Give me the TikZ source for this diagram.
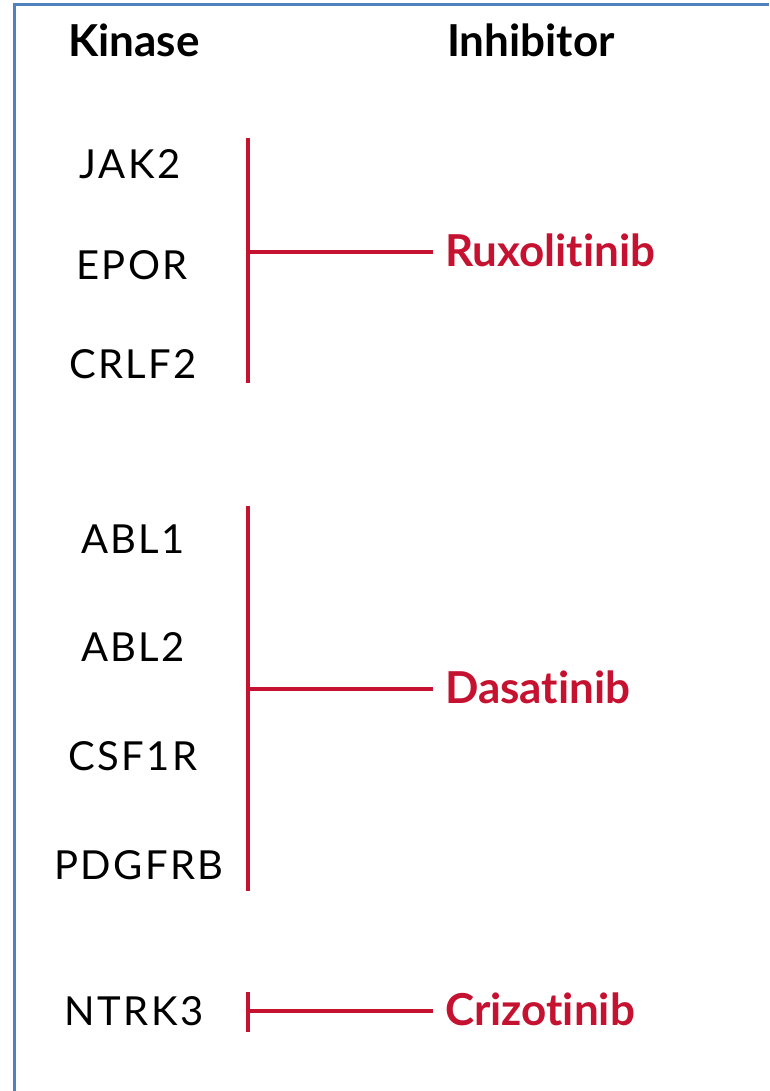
\documentclass[tikz,border=0pt]{standalone}
\usepackage{fontspec}
\setmainfont{Lato}[Ligatures=NoCommon]
\newfontfamily\kinfont[LetterSpace=6]{Lato}
\definecolor{drugred}{RGB}{196,18,48}
\definecolor{frameblue}{RGB}{79,129,189}
\tikzset{
  head/.style={anchor=base, inner sep=0pt, font=\bfseries\fontsize{44}{48}\selectfont},
  kin/.style={anchor=base, inner sep=0pt, font=\kinfont\fontsize{40}{44}\selectfont},
  drug/.style={anchor=base west, inner xsep=12pt, inner ysep=0pt, text=drugred,
    font=\bfseries\fontsize{44}{48}\selectfont},
  bar/.style={drugred, line width=4.5pt},
}
\begin{document}
\begin{tikzpicture}[x=1pt,y=-1pt] % kinases and their inhibitors
    \useasboundingbox (0,0) rectangle (769,1091);
    \draw[frameblue, line width=2.5pt] (14.5,1091) -- (14.5,4.5) -- (769,4.5);

    \node[head] (kinhead) at (134,57) {Kinase};
    \node[head] (inhhead) at (531,57) {Inhibitor};

    % kinases
    \node[kin] (jak) at (130,179) {JAK2};
    \node[kin] (epor) at (132,279) {EPOR};
    \node[kin] (crlf) at (133,378) {CRLF2};
    \node[kin] (ablone) at (133,553) {ABL1};
    \node[kin] (abltwo) at (133,661) {ABL2};
    \node[kin] (csf) at (133,770) {CSF1R};
    \node[kin] (pdgf) at (139,879) {PDGFRB};
    \node[kin] (ntrk) at (134,1025) {NTRK3};

    % inhibitors
    \node[drug] (rux) at (433,266) {Ruxolitinib};
    \node[drug] (dasa) at (433,703) {Dasatinib};
    \node[drug] (crizo) at (433,1025) {Crizotinib};

    \coordinate (top1) at (248,138);
    \coordinate (bot1) at (248,383);
    \coordinate (mid1) at (248,252);
    \coordinate (top2) at (248,506);
    \coordinate (bot2) at (248,891);
    \coordinate (mid2) at (248,689);
    \coordinate (top3) at (248,992);
    \coordinate (bot3) at (248,1032);
    \coordinate (mid3) at (248,1011);

    \draw[bar] (top1) -- (bot1);
    \draw[bar] (mid1) -- (rux.west |- mid1);
    \draw[bar] (top2) -- (bot2);
    \draw[bar] (mid2) -- (dasa.west |- mid2);
    \draw[bar] (top3) -- (bot3);
    \draw[bar] (mid3) -- (crizo.west |- mid3);
\end{tikzpicture}
\end{document}
